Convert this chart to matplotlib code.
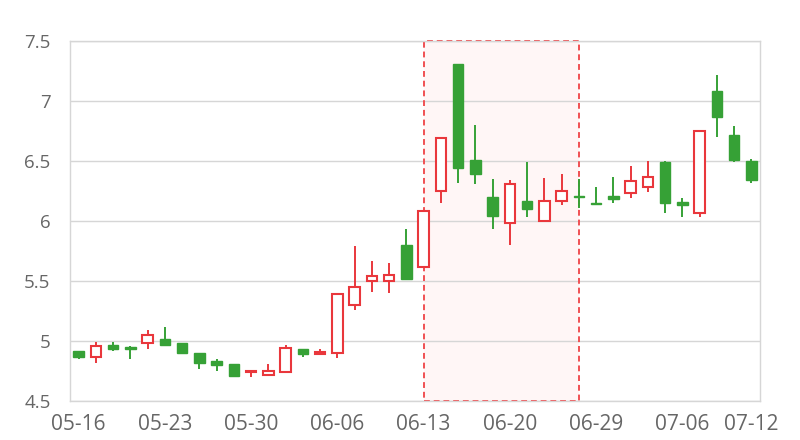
import matplotlib
matplotlib.use("Agg")
import matplotlib.pyplot as plt
from matplotlib.patches import Rectangle

dates = ["05-16", "05-17", "05-18", "05-19", "05-22", "05-23", "05-24", "05-25", "05-26",
         "05-29", "05-30", "05-31", "06-01", "06-02", "06-05", "06-06", "06-07", "06-08",
         "06-09", "06-12", "06-13", "06-14", "06-15", "06-16", "06-19", "06-20", "06-21",
         "06-26", "06-27", "06-28", "06-29", "06-30", "07-03", "07-04", "07-05", "07-06",
         "07-07", "07-10", "07-11", "07-12"]

opens  = [4.92, 4.87, 4.97, 4.95, 4.98, 5.02, 4.98, 4.90, 4.83, 4.81,
          4.74, 4.72, 4.74, 4.93, 4.89, 4.90, 5.30, 5.50, 5.50, 5.80,
          5.62, 6.25, 7.31, 6.51, 6.20, 5.98, 6.17, 6.00, 6.17, 6.21,
          6.15, 6.21, 6.23, 6.28, 6.49, 6.16, 6.07, 7.08, 6.72, 6.50]
closes = [4.87, 4.96, 4.93, 4.93, 5.05, 4.97, 4.90, 4.82, 4.80, 4.71,
          4.75, 4.75, 4.94, 4.89, 4.91, 5.39, 5.45, 5.54, 5.55, 5.52,
          6.08, 6.69, 6.44, 6.39, 6.04, 6.31, 6.10, 6.17, 6.25, 6.20,
          6.14, 6.18, 6.33, 6.37, 6.15, 6.13, 6.75, 6.87, 6.51, 6.34]
highs  = [4.92, 4.99, 4.99, 4.96, 5.09, 5.12, 4.98, 4.90, 4.85, 4.81,
          4.76, 4.81, 4.97, 4.93, 4.93, 5.40, 5.79, 5.67, 5.65, 5.93,
          6.09, 6.70, 7.31, 6.80, 6.35, 6.34, 6.49, 6.36, 6.39, 6.35,
          6.28, 6.37, 6.46, 6.50, 6.50, 6.19, 6.75, 7.22, 6.79, 6.52]
lows   = [4.85, 4.82, 4.92, 4.85, 4.93, 4.96, 4.90, 4.77, 4.75, 4.71,
          4.70, 4.72, 4.74, 4.87, 4.89, 4.86, 5.26, 5.41, 5.40, 5.52,
          5.62, 6.15, 6.32, 6.31, 5.93, 5.80, 6.03, 5.99, 6.13, 6.11,
          6.13, 6.15, 6.19, 6.24, 6.07, 6.03, 6.03, 6.70, 6.49, 6.32]

tick_labels = ["05-16", "05-23", "05-30", "06-06", "06-13", "06-20", "06-29", "07-06", "07-12"]
y_ticks = [4.5, 5, 5.5, 6, 6.5, 7, 7.5]
y_tick_labels = ["4.5", "5", "5.5", "6", "6.5", "7", "7.5"]
mark_start, mark_end = "06-13", "06-28"

RED = "#e9373c"
GREEN = "#36a136"
TEXT = "#666666"
GRID = "#d6d6d6"

plt.rcParams["font.family"] = ["Open Sans", "DejaVu Sans"]

fig = plt.figure(figsize=(8, 4.4), dpi=100)
ax = fig.add_axes([70 / 800, 1 - 401 / 440, 690 / 800, 360 / 440])

x = list(range(len(dates)))
ax.set_xlim(-0.5, len(dates) - 0.5)
ax.set_ylim(y_ticks[0], y_ticks[-1])

# highlight area
xs = dates.index(mark_start)
xe = dates.index(mark_end)
ax.add_patch(Rectangle((xs, y_ticks[0]), xe - xs, y_ticks[-1] - y_ticks[0],
                       facecolor="#fff6f6", edgecolor="none", zorder=0.5))
ax.add_patch(Rectangle((xs, y_ticks[0]), xe - xs, y_ticks[-1] - y_ticks[0],
                       facecolor="none", edgecolor="#f05053", linestyle=(0, (3, 2)),
                       linewidth=1.4, zorder=1.5, clip_on=False))

# grid
for yv in y_ticks:
    ax.axhline(yv, color=GRID, linewidth=1.0, zorder=1)

width = 0.62
for i in x:
    o, c, h, l = opens[i], closes[i], highs[i], lows[i]
    up = c > o
    col = RED if up else GREEN
    ax.vlines(i, l, h, color=col, linewidth=1.4, zorder=2)
    bottom = min(o, c)
    height = max(abs(c - o), 0.004)
    if up:
        ax.bar(i, height, width=width, bottom=bottom, facecolor="white",
               edgecolor=col, linewidth=1.5, zorder=3)
    else:
        ax.bar(i, height, width=width, bottom=bottom, facecolor=col,
               edgecolor=col, linewidth=1.0, zorder=3)

for s in ax.spines.values():
    s.set_color(GRID)
    s.set_linewidth(1.0)

ax.set_yticks(y_ticks)
ax.set_yticklabels(y_tick_labels)
ax.set_xticks([dates.index(t) for t in tick_labels])
ax.set_xticklabels(tick_labels)
ax.tick_params(axis="y", length=0, pad=14, labelsize=13.5, labelcolor=TEXT)
ax.tick_params(axis="x", length=0, pad=9, labelsize=15, labelcolor=TEXT)

fig.savefig("out.png", dpi=100)
